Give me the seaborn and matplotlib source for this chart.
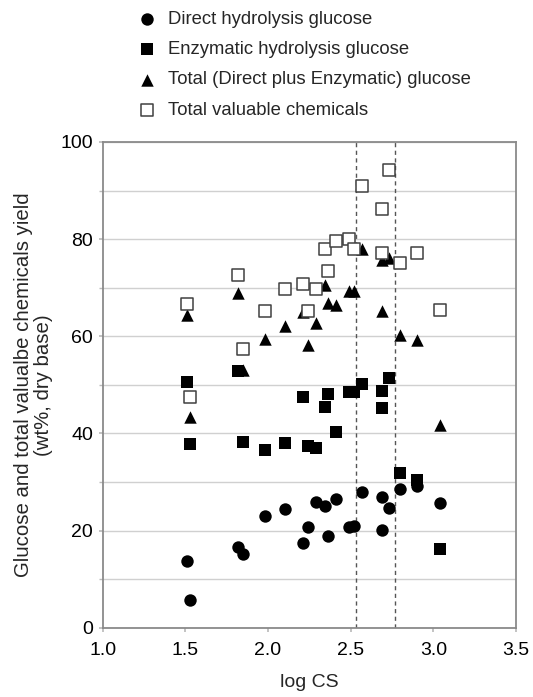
import matplotlib
matplotlib.use("Agg")
import matplotlib.pyplot as plt
import seaborn as sns
import pandas as pd
import numpy as np

log_cs = [1.51, 1.53, 1.82, 1.85, 1.98, 2.10, 2.21, 2.24, 2.29, 2.345, 2.36,
          2.41, 2.49, 2.52, 2.57, 2.69, 2.69, 2.73, 2.80, 2.90, 3.04]
direct = [13.7, 5.8, 16.7, 15.2, 22.9, 24.4, 17.5, 20.8, 25.8, 25.1, 18.9,
          26.4, 20.8, 21.0, 28.0, 27.0, 20.1, 24.6, 28.5, 29.2, 25.6]
enzymatic = [50.5, 37.8, 52.8, 38.2, 36.6, 38.0, 47.4, 37.4, 36.9, 45.4, 48.1,
             40.2, 48.5, 48.5, 50.2, 48.8, 45.2, 51.5, 31.8, 30.4, 16.2]
total_glucose = [64.4, 43.3, 69.0, 53.0, 59.4, 62.2, 65.1, 58.3, 62.7, 70.6, 66.9,
                 66.4, 69.3, 69.3, 78.0, 75.7, 65.3, 76.2, 60.3, 59.2, 41.7]
total_chem = [66.6, 47.5, 72.6, 57.4, 65.3, 69.7, 70.7, 65.2, 69.7, 78.0, 73.4,
              79.6, 80.1, 77.9, 90.9, 86.1, 77.2, 94.2, 75.0, 77.2, 65.5]
series_names = ["Direct hydrolysis glucose", "Enzymatic hydrolysis glucose",
                "Total (Direct plus Enzymatic) glucose", "Total valuable chemicals"]
vlines = [2.53, 2.77]

sns.set_theme(style="white")
plt.rcParams['font.family'] = ['Liberation Sans', 'DejaVu Sans']

df = pd.DataFrame({
    "log CS": log_cs * 4,
    "yield": direct + enzymatic + total_glucose + total_chem,
    "series": sum([[n] * len(log_cs) for n in series_names], []),
})

fig = plt.figure(figsize=(5.33, 6.97), dpi=100)
ax = fig.add_axes([0.1927, 0.0994, 0.7753, 0.6969])

styles = {
    series_names[0]: dict(marker="o", color="black", edgecolor="black", s=80, linewidth=0),
    series_names[1]: dict(marker="s", color="black", edgecolor="black", s=72, linewidth=0),
    series_names[2]: dict(marker="^", color="black", edgecolor="black", s=80, linewidth=0),
    series_names[3]: dict(marker="s", color="white", edgecolor="#404040", s=72, linewidth=1.1),
}
for name in series_names:
    sub = df[df["series"] == name]
    sns.scatterplot(data=sub, x="log CS", y="yield", ax=ax, label=name, zorder=3,
                    **styles[name])

for v in vlines:
    ax.axvline(v, color="#555555", linestyle=(0, (3, 2.5)), linewidth=1.0, zorder=2)

ax.set_xlim(1.0, 3.5)
ax.set_ylim(0, 100)
ax.set_xticks(np.arange(1.0, 3.51, 0.5))
ax.set_xticklabels([f"{t:.1f}" for t in np.arange(1.0, 3.51, 0.5)])
ax.set_yticks(np.arange(0, 101, 20))
ax.set_yticks(np.arange(0, 101, 10), minor=True)
ax.grid(True, which="both", axis="y", color="#d0d0d0", linewidth=1.0, zorder=0)
ax.grid(False, axis="x")
ax.set_axisbelow(True)
for sp in ax.spines.values():
    sp.set_color("#8a8a8a")
    sp.set_linewidth(1.3)
ax.tick_params(axis="both", which="both", direction="out", length=3, color="#bbbbbb",
               labelsize=14, labelcolor="black", left=True, bottom=True)
ax.tick_params(axis="x", pad=7)
ax.tick_params(axis="y", pad=4)
ax.set_xlabel("log CS", fontsize=14, labelpad=11)
ax.set_ylabel("Glucose and total valualbe chemicals yield\n(wt%, dry base)",
              fontsize=14.7, labelpad=5, linespacing=1.1)

leg = ax.legend(loc="upper left", bbox_to_anchor=(0.228, 0.995),
                bbox_transform=fig.transFigure, frameon=False, fontsize=13.3,
                handletextpad=0.1, labelspacing=0.72, borderaxespad=0,
                markerscale=1.0)

fig.savefig("out.png", dpi=100)
